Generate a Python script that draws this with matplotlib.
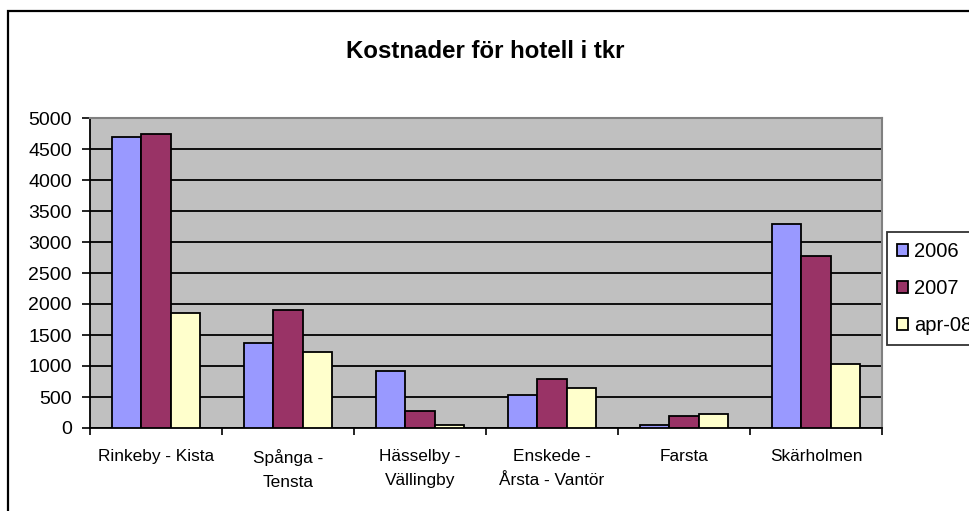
import numpy as np
import matplotlib
matplotlib.use('Agg')
import matplotlib.pyplot as plt
from matplotlib.patches import Rectangle

# Data
categories = ['Rinkeby - Kista', 'Spånga -\nTensta', 'Hässelby -\nVällingby',
              'Enskede -\nÅrsta - Vantör', 'Farsta', 'Skärholmen']
series_names = ['2006', '2007', 'apr-08']
values_2006 = [4690, 1370, 920, 530, 45, 3290]
values_2007 = [4750, 1900, 270, 785, 190, 2780]
values_apr08 = [1850, 1230, 50, 645, 225, 1035]
yticks = [0, 500, 1000, 1500, 2000, 2500, 3000, 3500, 4000, 4500, 5000]

colors = ['#9999FF', '#993366', '#FFFFCC']

plt.rcParams['font.family'] = ['Liberation Sans', 'DejaVu Sans']

fig = plt.figure(figsize=(9.7, 5.11), dpi=100)

# Outer chart border (runs off the right and bottom edges)
fig.patches.append(Rectangle((8 / 970, -0.1), 1.2, 1.1 - 11 / 511,
                             transform=fig.transFigure, fill=False,
                             edgecolor='black', linewidth=1.6))

ax = fig.add_axes([90 / 970, 1 - 428 / 511, 792 / 970, 310 / 511])
ax.set_facecolor('#C0C0C0')

x = np.arange(len(categories))
w = 0.22
all_series = [values_2006, values_2007, values_apr08]
for i, (vals, name) in enumerate(zip(all_series, series_names)):
    ax.bar(x + (i - 1) * w, vals, width=w, color=colors[i], edgecolor='black',
           linewidth=1.3, label=name, zorder=3)

ax.set_ylim(0, 5000)
ax.set_xlim(-0.5, len(categories) - 0.5)
ax.set_yticks(yticks)
ax.yaxis.grid(True, color='black', linewidth=1.3, zorder=1)
ax.set_axisbelow(True)

# ticks at category boundaries, labels centred under groups
ax.set_xticks(np.arange(len(categories) + 1) - 0.5)
ax.set_xticklabels([])
ax.set_xticks(x, minor=True)
ax.set_xticklabels(categories, minor=True, fontsize=12.4, linespacing=1.75)
ax.tick_params(axis='x', which='major', length=5, width=1.2, direction='out')
ax.tick_params(axis='x', which='minor', length=0, pad=15)
ax.tick_params(axis='y', length=6, width=1.2, pad=7, labelsize=14)

for side in ['top', 'right']:
    ax.spines[side].set_color('#808080')
    ax.spines[side].set_linewidth(1.5)
for side in ['left', 'bottom']:
    ax.spines[side].set_color('black')
    ax.spines[side].set_linewidth(1.3)

fig.text(0.5, 1 - 52 / 511, 'Kostnader för hotell i tkr', ha='center', va='center',
         fontsize=17.3, fontweight='bold')

leg = fig.legend(loc='upper left', bbox_to_anchor=(887 / 970, 1 - 232 / 511),
                 fontsize=14.5, frameon=True, fancybox=False, handlelength=0.55,
                 handleheight=0.55, handletextpad=0.3, labelspacing=0.9,
                 borderpad=0.5, borderaxespad=0)
leg.get_frame().set_edgecolor('black')
leg.get_frame().set_linewidth(1.3)
leg.get_frame().set_facecolor('white')

fig.savefig('out.png', dpi=100)
